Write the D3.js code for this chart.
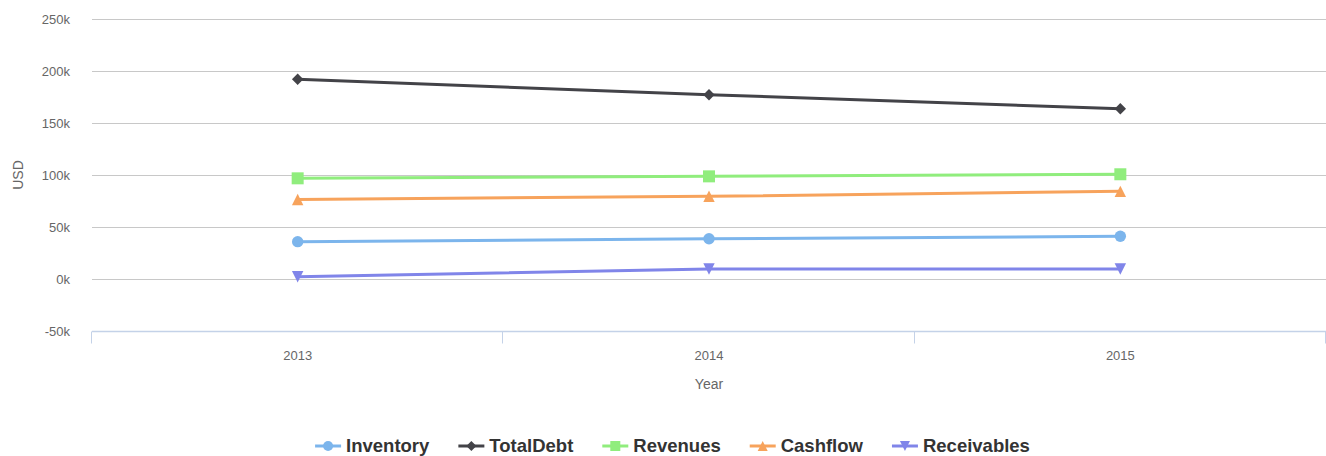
<html>
<head>
    <meta charset="UTF-8">
    <script type="text/javascript" src="https://d3js.org/d3.v7.min.js"></script>
    <style>
        body { margin: 0; background: #fff; }
        text { font-family: "Liberation Sans", Helvetica, Arial, sans-serif; }
    </style>
</head>
<body>
    <svg width="1326" height="456"></svg>
    <script>
        // data
        var years = ["2013", "2014", "2015"];
        var inventory = [35900, 38700, 41100];
        var totalDebt = [192000, 177200, 163700];
        var revenues = [96800, 98700, 100700];
        var cashflow = [76500, 79500, 84300];
        var receivables = [2200, 9600, 9600];
        var yTicks = [-50000, 0, 50000, 100000, 150000, 200000, 250000];

        var seriesNames = ["Inventory", "TotalDebt", "Revenues", "Cashflow", "Receivables"];
        var seriesValues = [inventory, totalDebt, revenues, cashflow, receivables];
        var colors = ["#7cb5ec", "#434348", "#90ed7d", "#f7a35c", "#8085e9"];
        var symbols = ["circle", "diamond", "square", "triangle", "triangle-down"];

        var svg = d3.select("svg");
        var marge = {top: 19, left: 92, right: 0};
        var plotW = 1326 - marge.left - marge.right;

        var xScale = d3.scaleBand()
            .domain(years)
            .range([marge.left, marge.left + plotW]);
        var yScale = d3.scaleLinear()
            .domain([-50000, 250000])
            .range([331, 19]);

        // gridlines
        svg.append("g").selectAll("line")
            .data(yTicks.filter(function(d){ return d > -50000; }))
            .enter().append("line")
            .attr("x1", marge.left).attr("x2", 1326)
            .attr("y1", function(d){ return Math.round(yScale(d)) + 0.5; })
            .attr("y2", function(d){ return Math.round(yScale(d)) + 0.5; })
            .attr("stroke", "#c8c8c8").attr("stroke-width", 1);

        // y labels
        svg.append("g").selectAll("text")
            .data(yTicks)
            .enter().append("text")
            .attr("x", 70)
            .attr("y", function(d){ return yScale(d) + 4.5; })
            .attr("text-anchor", "end")
            .attr("font-size", 13)
            .attr("fill", "#666")
            .text(function(d){ return (d / 1000) + "k"; });

        // x axis
        var xAxis = d3.axisBottom(xScale).tickSize(0);
        var gx = svg.append("g")
            .attr("transform", "translate(0," + (yScale(-50000) + 0.5) + ")")
            .call(xAxis);
        gx.select(".domain").attr("stroke", "#c4d2e8").attr("stroke-width", 1.5).attr("d", "M" + marge.left + ",0H1326");
        gx.selectAll("text")
            .attr("font-size", 13).attr("fill", "#666")
            .attr("font-family", "Liberation Sans, Helvetica, Arial, sans-serif")
            .attr("dy", 0).attr("y", 28);
        // band boundary ticks
        var bounds = years.map(function(d){ return xScale(d); }).concat([xScale(years[2]) + xScale.bandwidth()]);
        gx.selectAll(".bnd").data(bounds).enter().append("line")
            .attr("x1", function(d){ return Math.round(d) - 0.5; })
            .attr("x2", function(d){ return Math.round(d) - 0.5; })
            .attr("y1", 0).attr("y2", 12)
            .attr("stroke", "#c4d2e8");

        // axis titles
        svg.append("text")
            .attr("transform", "translate(23,175) rotate(-90)")
            .attr("text-anchor", "middle")
            .attr("font-size", 14).attr("fill", "#666")
            .text("USD");
        svg.append("text")
            .attr("x", marge.left + plotW / 2).attr("y", 389)
            .attr("text-anchor", "middle")
            .attr("font-size", 14).attr("fill", "#666")
            .text("Year");

        // marker shapes, r = half size
        function symPath(s, r) {
            if (s === "circle") return d3.symbol(d3.symbolCircle, Math.PI * r * r)();
            if (s === "square") return "M" + (-r) + "," + (-r) + "H" + r + "V" + r + "H" + (-r) + "Z";
            if (s === "diamond") return "M0," + (-r) + "L" + r + ",0L0," + r + "L" + (-r) + ",0Z";
            if (s === "triangle") return "M0," + (-r) + "L" + r + "," + r + "L" + (-r) + "," + r + "Z";
            return "M0," + r + "L" + r + "," + (-r) + "L" + (-r) + "," + (-r) + "Z";
        }

        var line = d3.line()
            .x(function(d, i){ return xScale(years[i]) + xScale.bandwidth() / 2; })
            .y(function(d){ return yScale(d); });

        seriesValues.forEach(function(vals, k) {
            var g = svg.append("g");
            g.append("path")
                .attr("d", line(vals))
                .attr("fill", "none")
                .attr("stroke", colors[k])
                .attr("stroke-width", 3);
            g.selectAll(".m").data(vals).enter().append("path")
                .attr("transform", function(d, i){
                    return "translate(" + (xScale(years[i]) + xScale.bandwidth() / 2) + "," + yScale(d) + ")";
                })
                .attr("d", symPath(symbols[k], k === 2 ? 6 : 5.7))
                .attr("fill", colors[k]);
        });

        // legend
        var legend = svg.append("g").attr("transform", "translate(0,452)");
        var xPos = 0;
        seriesNames.forEach(function(name, k) {
            var it = legend.append("g").attr("transform", "translate(" + xPos + ",0)");
            it.append("line").attr("x1", 0).attr("x2", 26).attr("y1", -6).attr("y2", -6)
                .attr("stroke", colors[k]).attr("stroke-width", 3);
            it.append("path").attr("transform", "translate(13,-6)")
                .attr("d", symPath(symbols[k], 5))
                .attr("fill", colors[k]);
            var t = it.append("text").attr("x", 31)
                .attr("font-size", 18.5).attr("font-weight", "bold").attr("fill", "#333")
                .text(name);
            xPos += 31 + t.node().getComputedTextLength() + 29;
        });
        var total = xPos - 29;
        legend.attr("transform", "translate(" + (672.5 - total / 2) + ",452)");
    </script>
</body>
</html>
